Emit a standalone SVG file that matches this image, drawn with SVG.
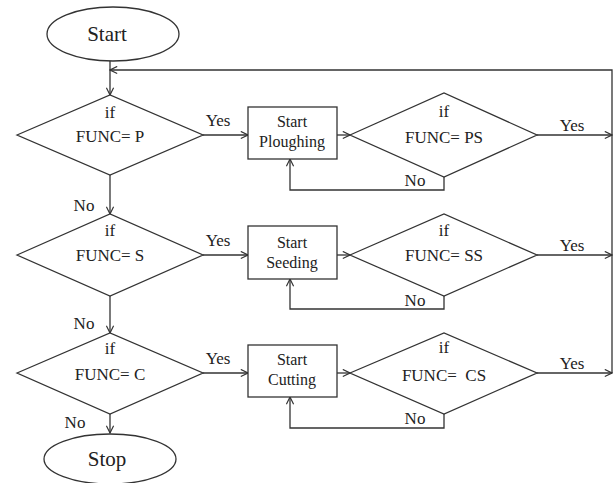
<svg xmlns="http://www.w3.org/2000/svg" width="616" height="483" viewBox="0 0 616 483" font-family="'Liberation Serif', 'DejaVu Serif', serif">
<style>
.s{fill:#fff;stroke:#333;stroke-width:1.3}
.c{fill:none;stroke:#333;stroke-width:1.3}
text{font-family:'Liberation Serif','DejaVu Serif',serif;fill:#222;font-size:17px;text-anchor:middle}
.t{font-size:21px}
.b{font-size:16px}
</style>
<defs>
<marker id="a" viewBox="0 0 10 10" refX="9" refY="5" markerWidth="9" markerHeight="9" markerUnits="userSpaceOnUse" orient="auto">
<path d="M1,1 L9,5 L1,9" fill="none" stroke="#333" stroke-width="1.3"/>
</marker>
</defs>
<rect width="616" height="483" fill="#fff"/>
<g id="connectors">
<path class="c" d="M110,61 V95" marker-end="url(#a)"/>
<path class="c" d="M612,135 V70 H110" marker-end="url(#a)"/>
<path class="c" d="M612,135 V373"/>
<path class="c" d="M203,135 H248" marker-end="url(#a)"/>
<path class="c" d="M337,135 H350" marker-end="url(#a)"/>
<path class="c" d="M537,135 H612" marker-end="url(#a)"/>
<path class="c" d="M444,177 V190 H290 V159" marker-end="url(#a)"/>
<path class="c" d="M110,175 V214" marker-end="url(#a)"/>
<path class="c" d="M203,255 H248" marker-end="url(#a)"/>
<path class="c" d="M337,255 H350" marker-end="url(#a)"/>
<path class="c" d="M537,255 H612" marker-end="url(#a)"/>
<path class="c" d="M444,296 V309 H290 V279" marker-end="url(#a)"/>
<path class="c" d="M110,296 V333" marker-end="url(#a)"/>
<path class="c" d="M203,373 H248" marker-end="url(#a)"/>
<path class="c" d="M337,373 H350" marker-end="url(#a)"/>
<path class="c" d="M537,373 H612" marker-end="url(#a)"/>
<path class="c" d="M444,414 V428 H290 V397" marker-end="url(#a)"/>
<path class="c" d="M110,414 V433" marker-end="url(#a)"/>
<text x="218" y="126">Yes</text>
<text x="572" y="131">Yes</text>
<text x="415" y="186">No</text>
<text x="84" y="211">No</text>
<text x="218" y="246">Yes</text>
<text x="572" y="251">Yes</text>
<text x="415" y="306">No</text>
<text x="84" y="329">No</text>
<text x="218" y="364">Yes</text>
<text x="572" y="369">Yes</text>
<text x="415" y="424">No</text>
<text x="75" y="428">No</text>
</g>
<g id="start">
<ellipse class="s" cx="113" cy="34" rx="66" ry="27"/>
<text class="t" x="107" y="41">Start</text>
</g>
<g id="ifP">
<polygon class="s" points="17,135 110,95 203,135 110,175"/>
<text x="110" y="118">if</text>
<text x="110" y="142">FUNC= P</text>
</g>
<g id="ploughing">
<rect class="s" x="248" y="107" width="89" height="52"/>
<text class="b" x="292" y="127">Start</text>
<text class="b" x="292" y="147">Ploughing</text>
</g>
<g id="ifPS">
<polygon class="s" points="350,135 444,93 537,135 444,177"/>
<text x="444" y="117">if</text>
<text x="444" y="143">FUNC= PS</text>
</g>
<g id="ifS">
<polygon class="s" points="17,255 110,214 203,255 110,296"/>
<text x="110" y="236">if</text>
<text x="110" y="261">FUNC= S</text>
</g>
<g id="seeding">
<rect class="s" x="248" y="226" width="89" height="53"/>
<text class="b" x="292" y="248">Start</text>
<text class="b" x="292" y="268">Seeding</text>
</g>
<g id="ifSS">
<polygon class="s" points="350,255 444,214 537,255 444,296"/>
<text x="444" y="236">if</text>
<text x="444" y="261">FUNC= SS</text>
</g>
<g id="ifC">
<polygon class="s" points="17,373 110,333 203,373 110,414"/>
<text x="110" y="354">if</text>
<text x="110" y="380">FUNC= C</text>
</g>
<g id="cutting">
<rect class="s" x="248" y="345" width="89" height="52"/>
<text class="b" x="292" y="365">Start</text>
<text class="b" x="292" y="385">Cutting</text>
</g>
<g id="ifCS">
<polygon class="s" points="350,373 444,333 537,373 444,414"/>
<text x="444" y="353">if</text>
<text x="444" y="381" xml:space="preserve">FUNC=  CS</text>
</g>
<g id="stop">
<ellipse class="s" cx="110" cy="459" rx="66" ry="25"/>
<text class="t" x="107" y="466">Stop</text>
</g>
</svg>
